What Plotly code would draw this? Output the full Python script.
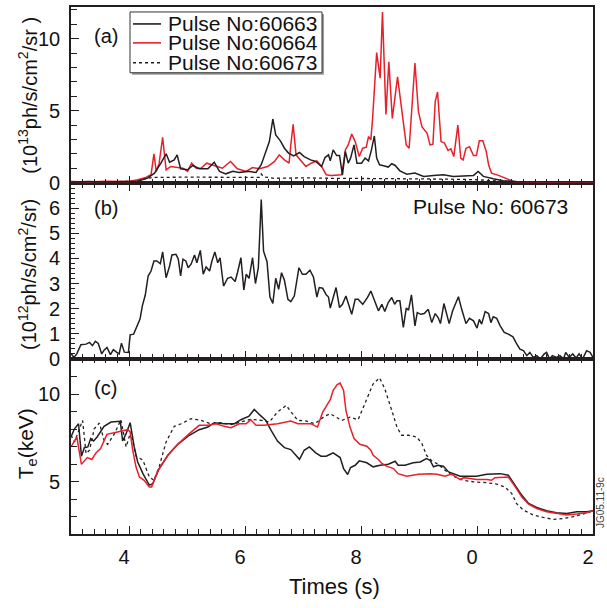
import plotly.graph_objects as go

# ---------------- data ----------------
# Panel (a): 10^13 ph/s/cm^2/sr
a63_x = [13.0, 13.3, 13.6, 13.9, 14.0, 14.15, 14.32, 14.44, 14.55, 14.64, 14.70, 14.78, 14.83, 14.89, 15.01, 15.10,
         15.21, 15.36, 15.47, 15.56, 15.67, 15.79, 15.90, 16.05, 16.19, 16.28, 16.36, 16.42, 16.48, 16.53, 16.61,
         16.68, 16.75, 16.84, 16.94, 17.02, 17.13, 17.22, 17.32, 17.38, 17.44, 17.47, 17.52, 17.58, 17.63, 17.68,
         17.73, 17.78, 17.82, 17.88, 17.93, 18.01, 18.07, 18.13, 18.18, 18.23, 18.27, 18.32, 18.39, 18.47, 18.53,
         18.59, 18.67, 18.79, 18.93, 19.08, 19.25, 19.42, 19.59, 19.77, 19.94, 20.02, 20.11, 20.28, 20.45, 20.68,
         21.2, 22.0]
a63_y = [0.05, 0.08, 0.04, 0.06, 0.05, 0.1, 0.31, 0.66, 1.35, 2.0, 1.42, 1.58, 1.93, 0.96, 0.89, 1.19,
         0.96, 0.96, 1.42, 0.78, 0.61, 0.78, 0.71, 0.78, 0.71, 1.24, 2.16, 2.85, 4.42, 3.31, 2.90,
         2.39, 2.05, 1.86, 2.09, 1.81, 1.58, 1.47, 1.12, 1.74, 1.93, 1.51, 2.27, 1.88, 1.88, 0.54,
         2.16, 1.35, 1.70, 2.62, 1.35, 1.35, 1.70, 1.51, 2.27, 3.24, 1.70, 1.24, 1.17, 1.08, 1.31,
         1.19, 0.82, 0.59, 0.66, 0.43, 0.50, 0.54, 0.43, 0.47, 0.50, 0.77, 0.43, 0.27, 0.13, 0.08,
         0.06, 0.06]

a64_x = [13.0, 13.3, 13.6, 13.9, 14.0, 14.15, 14.29, 14.38, 14.43, 14.47, 14.52, 14.58, 14.64, 14.72, 14.84,
         14.93, 15.01, 15.08, 15.16, 15.24, 15.34, 15.47, 15.61, 15.75, 15.87, 16.02, 16.13, 16.25, 16.39,
         16.51, 16.59, 16.68, 16.76, 16.79, 16.83, 16.88, 16.97, 17.05, 17.14, 17.24, 17.32, 17.40, 17.48,
         17.67, 17.73, 17.78, 17.84, 17.90, 17.97, 18.03, 18.09, 18.13, 18.17, 18.20, 18.27, 18.33, 18.37,
         18.43, 18.48, 18.54, 18.63, 18.68, 18.78, 18.83, 18.93, 18.99, 19.05, 19.14, 19.19, 19.24, 19.28,
         19.32, 19.38, 19.44, 19.50, 19.55, 19.60, 19.67, 19.72, 19.76, 19.81, 19.87, 19.94, 19.99, 20.04,
         20.10, 20.16, 20.20, 20.25, 20.37, 20.48, 20.63, 21.2, 22.0]
a64_y = [0.08, 0.05, 0.09, 0.06, 0.08, 0.2, 0.36, 0.55, 2.0, 0.78, 1.35, 3.15, 0.89, 1.12, 1.05,
         1.0, 0.78, 1.35, 1.0, 1.0, 1.35, 1.19, 1.0, 1.47, 0.96, 0.78, 1.05, 0.96, 1.12,
         1.47, 1.93, 1.58, 1.35, 2.62, 4.05, 1.93, 1.47, 1.12, 1.35, 1.51, 1.12, 0.55, 0.5,
         0.55, 2.27, 2.62, 3.38, 2.85, 1.81, 2.39, 2.46, 3.2, 2.97, 4.46, 9.03, 7.25, 11.85,
         4.74, 8.39, 4.46, 7.35, 5.86, 2.62, 2.39, 8.31, 4.93, 3.89, 3.43, 2.62, 2.67, 5.63,
         6.3, 2.85, 2.74, 2.23, 2.34, 1.81, 4.0, 1.70, 1.58, 2.39, 2.5, 1.88, 1.88, 2.9,
         2.9, 2.16, 1.24, 0.66, 0.5, 0.31, 0.08, 0.04, 0.04]

a73_x = [13.0, 13.5, 14.0, 14.2, 14.4, 15.0, 15.5, 16.0, 16.25, 16.28, 16.32, 16.5, 17.0, 17.5, 18.0, 18.5,
         19.0, 19.5, 20.0, 20.4, 20.7, 21.0, 22.0]
a73_y = [0.05, 0.05, 0.08, 0.2, 0.36, 0.38, 0.36, 0.34, 0.36, 0.6, 0.4, 0.3, 0.33, 0.3, 0.3, 0.28,
         0.26, 0.24, 0.2, 0.1, 0.05, 0.02, 0.02]

# Panel (b): 10^12 ph/s/cm^2/sr, pulse 60673
b73_x = [13.0, 13.05, 13.10, 13.17, 13.26, 13.32, 13.37, 13.42, 13.47, 13.53, 13.57, 13.62, 13.68, 13.73, 13.79,
         13.83, 13.87, 13.92, 13.99, 14.02, 14.08, 14.14, 14.19, 14.23, 14.28, 14.33, 14.38, 14.43, 14.48, 14.54,
         14.58, 14.64, 14.70, 14.74, 14.81, 14.85, 14.89, 14.93, 14.98, 15.02, 15.07, 15.13, 15.17, 15.23, 15.28,
         15.33, 15.39, 15.43, 15.48, 15.53, 15.57, 15.63, 15.70, 15.76, 15.83, 15.87, 15.93, 15.98, 16.02, 16.07,
         16.13, 16.18, 16.23, 16.28, 16.32, 16.38, 16.43, 16.48, 16.53, 16.58, 16.63, 16.68, 16.74, 16.79, 16.85,
         16.93, 16.99, 17.05, 17.12, 17.18, 17.24, 17.28, 17.34, 17.40, 17.44, 17.47, 17.51, 17.57, 17.63,
         17.68, 17.74, 17.79, 17.84, 17.90, 17.95, 18.03, 18.11, 18.17, 18.24, 18.30, 18.36, 18.41, 18.47, 18.53,
         18.58, 18.62, 18.67, 18.73, 18.78, 18.82, 18.87, 18.93, 18.97, 19.03, 19.09, 19.16, 19.22, 19.28, 19.33,
         19.37, 19.43, 19.48, 19.52, 19.58, 19.68, 19.74, 19.81, 19.87, 19.94, 20.0, 20.04, 20.08, 20.14, 20.20,
         20.24, 20.28, 20.34, 20.40, 20.47, 20.54, 20.62, 20.67, 20.74, 20.80, 20.86, 20.91, 20.97, 21.03, 21.09,
         21.16, 21.20, 21.25, 21.30, 21.37, 21.43, 21.49, 21.53, 21.59, 21.65, 21.71, 21.76, 21.82, 21.89, 21.95,
         22.0]
b73_y = [0.21, 0.05, 0.19, 0.56, 0.58, 0.65, 0.52, 0.69, 0.61, 0.19, 0.34, 0.45, 0.16, 0.36, 0.25,
         0.19, 0.62, 0.26, 0.25, 0.95, 0.98, 1.27, 1.58, 2.11, 2.53, 3.30, 3.50, 3.90, 3.90, 3.79,
         4.26, 3.23, 3.70, 4.14, 4.17, 3.97, 3.30, 3.97, 3.90, 3.63, 3.77, 4.14, 3.83, 4.32, 3.37,
         3.66, 3.50, 3.90, 4.26, 3.83, 4.03, 2.90, 3.21, 3.26, 3.08, 3.43, 4.03, 2.74, 3.37, 3.21,
         4.03, 3.0, 3.63, 6.35, 4.29, 3.87, 2.46, 2.21, 3.21, 2.77, 3.43, 3.13, 2.37, 2.28, 2.50,
         3.63, 3.37, 3.37, 3.53, 3.26, 2.46, 2.84, 2.81, 2.55, 2.46, 2.02, 2.31, 2.84, 2.04,
         2.17, 2.50, 2.17, 1.77, 2.37, 2.37, 2.17, 2.44, 2.70, 2.24, 1.91, 2.17, 1.88, 2.24, 2.44,
         2.17, 2.31, 2.31, 1.25, 2.02, 1.94, 2.55, 1.31, 1.84, 1.77, 1.80, 1.97, 1.44, 1.80, 1.64,
         1.40, 2.20, 1.71, 1.40, 1.91, 2.47, 1.94, 1.40, 1.61, 1.51, 1.22, 1.57, 1.38, 1.88, 1.80,
         1.44, 1.67, 1.61, 1.31, 1.05, 0.98, 0.87, 0.65, 0.38, 0.32, 0.12, 0.25, 0.05, 0.12, -0.01,
         0.19, 0.25, -0.01, 0.12, 0.05, 0.12, -0.01, 0.25, 0.05, 0.19, 0.03, 0.19, -0.01, 0.32, 0.25,
         0.05]

# Panel (c): Te (keV)
c63_x = [13.0, 13.06, 13.13, 13.18, 13.23, 13.29, 13.34, 13.39, 13.45, 13.51, 13.57, 13.69, 13.85, 13.89, 13.95,
         14.02, 14.09, 14.15, 14.24, 14.35, 14.41, 14.52, 14.67, 14.84, 15.04, 15.21, 15.36, 15.47, 15.64, 15.82,
         15.93, 16.07, 16.16, 16.25, 16.36, 16.45, 16.56, 16.68, 16.79, 16.94, 17.02, 17.11, 17.22, 17.31, 17.40,
         17.47, 17.52, 17.64, 17.70, 17.77, 17.82, 17.90, 17.97, 18.10, 18.21, 18.33, 18.47, 18.59, 18.64,
         18.76, 18.90, 19.02, 19.13, 19.19, 19.25, 19.33, 19.42, 19.51, 19.59, 19.71, 19.82, 19.99, 20.17, 20.40,
         20.54, 20.66, 20.77, 20.89, 21.03, 21.20, 21.37, 21.55, 21.72, 21.89, 22.0]
c63_y = [7.56, 8.03, 8.32, 6.46, 6.95, 6.99, 7.47, 7.33, 7.56, 7.85, 8.17, 8.42, 8.46, 7.33, 7.75,
         8.38, 6.99, 6.13, 5.46, 4.80, 4.89, 5.75, 6.51, 7.14, 7.66, 7.98, 8.13, 8.38, 8.32, 8.32,
         8.55, 8.76, 9.14, 8.84, 8.51, 7.94, 7.33, 6.95, 6.84, 6.28, 6.80, 6.99, 6.65, 6.46, 6.46,
         6.57, 6.65, 6.38, 5.75, 5.41, 5.81, 5.94, 6.19, 6.08, 5.85, 5.94, 6.0, 6.17, 5.94,
         5.94, 6.08, 6.13, 6.32, 6.23, 5.85, 5.94, 5.89, 5.56, 5.46, 5.31, 5.31, 5.31, 5.43, 5.46,
         5.37, 4.80, 4.23, 3.75, 3.52, 3.33, 3.22, 3.18, 3.28, 3.28, 3.33]

c64_x = [13.0, 13.10, 13.18, 13.28, 13.36, 13.43, 13.51, 13.62, 13.80, 13.98, 14.02, 14.06, 14.12, 14.18, 14.26,
         14.35, 14.39, 14.49, 14.67, 14.84, 15.04, 15.21, 15.36, 15.50, 15.64, 15.76, 15.90, 16.02, 16.10, 16.19,
         16.33, 16.56, 16.79, 16.91, 17.14, 17.25, 17.34, 17.43, 17.47, 17.52, 17.59, 17.64, 17.70, 17.74,
         17.81, 17.88, 17.98, 18.10, 18.17, 18.21, 18.30, 18.36, 18.44, 18.56, 18.64, 18.79, 18.90, 18.99,
         19.19, 19.31, 19.45, 19.56, 19.71, 19.77, 19.88, 19.99, 20.17, 20.25, 20.31, 20.54, 20.66, 20.77, 20.89,
         21.03, 21.20, 21.37, 21.55, 21.72, 21.89, 22.0]
c64_y = [6.99, 7.56, 5.99, 6.38, 6.27, 6.65, 6.90, 7.71, 7.85, 7.98, 7.85, 6.90, 5.85, 5.27, 5.08,
         4.70, 4.70, 5.56, 6.51, 7.14, 7.75, 8.23, 8.23, 8.32, 8.17, 8.09, 8.32, 8.32, 8.55, 8.23,
         8.23, 8.32, 8.48, 8.32, 8.32, 8.13, 8.99, 9.47, 9.70, 10.23, 10.57, 10.65, 10.23, 9.09,
         8.13, 7.47, 7.14, 7.03, 6.80, 6.51, 6.27, 6.04, 5.89, 5.75, 5.46, 5.31, 5.37, 5.43,
         5.46, 5.43, 5.31, 5.43, 5.12, 5.23, 5.18, 5.12, 5.12, 5.08, 5.23, 5.27, 4.70, 4.13, 3.71,
         3.46, 3.28, 3.18, 3.09, 3.14, 3.22, 3.33]

c73_x = [13.0, 13.06, 13.20, 13.26, 13.32, 13.40, 13.49, 13.57, 13.63, 13.75, 13.86, 13.95, 14.03, 14.12, 14.24,
         14.35, 14.43, 14.52, 14.64, 14.78, 14.90, 15.07, 15.24, 15.41, 15.59, 15.76, 15.93, 16.10, 16.28, 16.42,
         16.56, 16.71, 16.82, 16.91, 17.05, 17.20, 17.37, 17.47, 17.67, 17.81, 17.95, 18.07, 18.21, 18.32,
         18.41, 18.53, 18.62, 18.70, 18.82, 18.96, 19.05, 19.13, 19.22, 19.33, 19.45, 19.59, 19.76, 19.94, 20.17,
         20.34, 20.48, 20.60, 20.68, 20.80, 20.97, 21.14, 21.32, 21.49, 21.66, 21.83, 22.0]
c73_y = [7.66, 7.28, 8.51, 6.61, 6.80, 8.03, 8.36, 7.37, 7.14, 7.75, 8.55, 6.99, 7.85, 6.46, 6.23,
         5.27, 5.08, 5.85, 7.28, 8.17, 8.32, 8.61, 8.51, 8.32, 8.38, 8.27, 8.42, 8.57, 8.51, 8.42,
         8.99, 9.37, 8.89, 8.51, 8.48, 8.32, 8.74, 8.89, 8.51, 8.70, 8.55, 9.47, 10.61, 10.95,
         10.32, 9.09, 8.13, 7.66, 7.66, 7.56, 7.18, 6.51, 6.19, 6.0, 5.65, 5.31, 5.08, 4.99, 4.94,
         4.86, 4.70, 4.32, 3.75, 3.37, 3.09, 2.95, 2.84, 2.89, 2.99, 3.14, 3.33]

x_tickvals = [14, 16, 18, 20, 22]
x_ticktext = ["4", "6", "8", "0", "2"]
ya_ticks = [0, 5, 10]
yb_ticks = [0, 1, 2, 3, 4, 5, 6]
yc_ticks = [5, 10]
legend_names = ["Pulse No:60663", "Pulse No:60664", "Pulse No:60673"]

# ---------------- styling ----------------
BLACK = "#231f20"
RED = "#e8202a"
FONT = "Liberation Sans, Arial, Helvetica, sans-serif"
W, H = 607, 608
L, R, T, B = 71, 14, 5, 74
PW, PH = W - L - R, H - T - B


def px(x):
    return (x - L) / PW


def py(y):
    return (H - B - y) / PH


fig = go.Figure()
# panel (a) -> x3/y3
fig.add_trace(go.Scatter(x=a73_x, y=a73_y, mode="lines", name=legend_names[2],
                         line=dict(color=BLACK, width=1.3, dash="dot"), xaxis="x3", yaxis="y3"))
fig.add_trace(go.Scatter(x=a64_x, y=a64_y, mode="lines", name=legend_names[1],
                         line=dict(color=RED, width=1.5), xaxis="x3", yaxis="y3"))
fig.add_trace(go.Scatter(x=a63_x, y=a63_y, mode="lines", name=legend_names[0],
                         line=dict(color=BLACK, width=1.5), xaxis="x3", yaxis="y3"))
# panel (b) -> x2/y2
fig.add_trace(go.Scatter(x=b73_x, y=b73_y, mode="lines", name="60673",
                         line=dict(color=BLACK, width=1.5), xaxis="x2", yaxis="y2"))
# panel (c) -> x/y
fig.add_trace(go.Scatter(x=c73_x, y=c73_y, mode="lines", name="60673 Te",
                         line=dict(color=BLACK, width=1.3, dash="dot"), xaxis="x", yaxis="y"))
fig.add_trace(go.Scatter(x=c63_x, y=c63_y, mode="lines", name="60663 Te",
                         line=dict(color=BLACK, width=1.5), xaxis="x", yaxis="y"))
fig.add_trace(go.Scatter(x=c64_x, y=c64_y, mode="lines", name="60664 Te",
                         line=dict(color=RED, width=1.5), xaxis="x", yaxis="y"))

tickfont = dict(family=FONT, size=20, color="#111")


def xaxis(anchor, labels, mirror):
    return dict(anchor=anchor, range=[13, 22], showgrid=False, zeroline=False,
                showline=True, linecolor=BLACK, linewidth=1.6, mirror=mirror,
                ticks="inside", ticklen=8, tickwidth=1.2, tickcolor=BLACK,
                tickvals=x_tickvals, ticktext=x_ticktext, showticklabels=labels,
                tickfont=tickfont, ticklabelshift=-5, ticklabelstandoff=4,
                minor=dict(dtick=0.2, tick0=13, ticks="inside", ticklen=5, tickwidth=1, tickcolor=BLACK))


def yaxis(anchor, dom, rng, tv, mdtick, mlen):
    return dict(anchor=anchor, domain=dom, range=rng, showgrid=False, zeroline=False,
                showline=True, linecolor=BLACK, linewidth=1.6, mirror=True,
                ticks="inside", ticklen=8, tickwidth=1.2, tickcolor=BLACK,
                tickmode="array", tickvals=tv,
                tickfont=tickfont, ticklabelstandoff=5,
                minor=dict(dtick=mdtick, tick0=0, ticks="inside", ticklen=mlen, tickwidth=1, tickcolor=BLACK))


dc = [0, py(358)]
db = [py(358), py(182)]
da = [py(182), 1]

fig.update_layout(
    width=W, height=H,
    margin=dict(l=L, r=R, t=T, b=B),
    paper_bgcolor="white", plot_bgcolor="white",
    showlegend=False,
    font=dict(family=FONT, color="#111"),
    xaxis=xaxis("y", True, "ticks"),
    xaxis2=xaxis("y2", False, "ticks"),
    xaxis3=xaxis("y3", False, True),
    yaxis=yaxis("x", dc, [2, 12.05], yc_ticks, 1, 6),
    yaxis2=yaxis("x2", db, [0, 7], yb_ticks, 0.2, 4),
    yaxis3=yaxis("x3", da, [-0.05, 12.2], ya_ticks, 1, 6),
)

ann = []
# panel labels
for lab, yy in [("(a)", 34), ("(b)", 207), ("(c)", 387)]:
    ann.append(dict(text=lab, x=px(92), y=py(yy), xref="paper", yref="paper", xanchor="left",
                    yanchor="middle", showarrow=False, font=dict(family=FONT, size=20, color="#111")))
ann.append(dict(text="Pulse No: 60673", x=px(411), y=py(205), xref="paper", yref="paper", xanchor="left",
                yanchor="middle", showarrow=False, font=dict(family=FONT, size=21, color="#111")))
# y titles
ann.append(dict(text="(10<sup>13</sup>ph/s/cm<sup>2</sup>/sr )", x=px(28), y=py(94), xref="paper", yref="paper",
                xanchor="center", yanchor="middle", textangle=-90, showarrow=False,
                font=dict(family=FONT, size=20, color="#111")))
ann.append(dict(text="(10<sup>12</sup>ph/s/cm<sup>2</sup>/sr)", x=px(28), y=py(274), xref="paper", yref="paper",
                xanchor="center", yanchor="middle", textangle=-90, showarrow=False,
                font=dict(family=FONT, size=20, color="#111")))
ann.append(dict(text="T<sub>e</sub>(keV)", x=px(27), y=py(444), xref="paper", yref="paper",
                xanchor="center", yanchor="middle", textangle=-90, showarrow=False,
                font=dict(family=FONT, size=21, color="#111")))
# x title
ann.append(dict(text="Times (s)", x=px(334), y=py(587), xref="paper", yref="paper",
                xanchor="center", yanchor="middle", showarrow=False,
                font=dict(family=FONT, size=22, color="#111")))
# figure id
ann.append(dict(text="JG05.11-9c", x=px(600), y=py(503), xref="paper", yref="paper",
                xanchor="center", yanchor="middle", textangle=-90, showarrow=False,
                font=dict(family=FONT, size=10, color="#444")))

# manual legend (box, samples, labels)
shapes = []
shapes.append(dict(type="rect", xref="paper", yref="paper", x0=px(132), x1=px(324), y0=py(73), y1=py(12),
                   line=dict(width=0), fillcolor="#9a9a9a", layer="above"))
shapes.append(dict(type="rect", xref="paper", yref="paper", x0=px(130), x1=px(322), y0=py(71), y1=py(10),
                   line=dict(width=1, color="#333"), fillcolor="white", layer="above"))
leg_rows = [(22, BLACK, "solid"), (41, RED, "solid"), (61, BLACK, "dot")]
for (yy, col, dash), name in zip(leg_rows, legend_names):
    shapes.append(dict(type="line", xref="paper", yref="paper", x0=px(133), x1=px(161), y0=py(yy), y1=py(yy),
                       line=dict(color=col, width=1.6, dash=dash), layer="above"))
    ann.append(dict(text=name, x=px(166), y=py(yy), xref="paper", yref="paper", xanchor="left",
                    yanchor="middle", showarrow=False, font=dict(family=FONT, size=21, color="#111")))

fig.update_layout(annotations=ann, shapes=shapes)
fig.write_html("out.html", config={"displayModeBar": False},
               post_script="document.body.style.margin='0px';")
